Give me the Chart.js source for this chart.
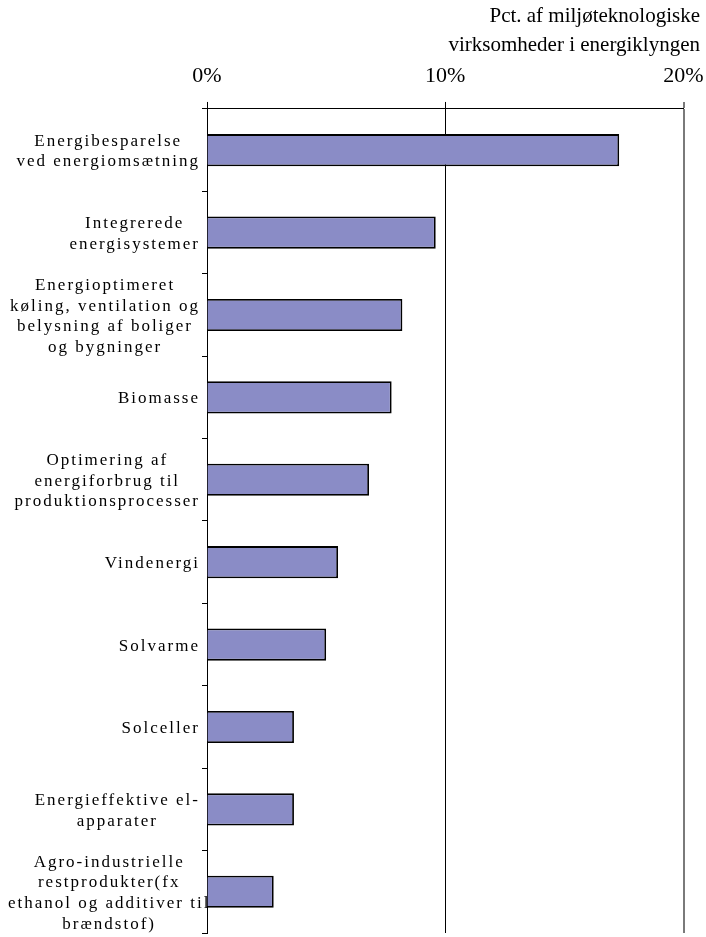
<!DOCTYPE html>
<html>
<head>
<meta charset="utf-8">
<script src="https://cdn.jsdelivr.net/npm/chart.js@4/dist/chart.umd.min.js"></script>
<style>
  html, body { margin: 0; padding: 0; background: #ffffff; }
  canvas { display: block; }
</style>
</head>
<body>
<canvas id="chart" width="706" height="937"></canvas>
<script>
// Technology areas (multi-line labels as arrays of lines)
const categories = [
  ['Energibesparelse', 'ved energiomsætning'],
  ['Integrerede', 'energisystemer'],
  ['Energioptimeret', 'køling, ventilation og', 'belysning af boliger', 'og bygninger'],
  'Biomasse',
  ['Optimering af', 'energiforbrug til', 'produktionsprocesser'],
  'Vindenergi',
  'Solvarme',
  'Solceller',
  ['Energieffektive el-', 'apparater'],
  ['Agro-industrielle', 'restprodukter(fx', 'ethanol og additiver til', 'brændstof)']
];

// Share of environmental-technology companies in the energy cluster (%)
const shares = [17.3, 9.6, 8.2, 7.75, 6.8, 5.5, 5.0, 3.65, 3.65, 2.8];

// Value axis ticks (%)
const xTicks = [0, 10, 20];

const axisTitle = ['Pct. af miljøteknologiske', 'virksomheder i energiklyngen'];

const SERIF = '"Liberation Serif", "Times New Roman", serif';

// Category labels: block right-aligned next to the axis, each line centred in the block;
// a block wider than the margin keeps a small left inset and runs over the axis instead.
const categoryLabels = {
  id: 'categoryLabels',
  afterDraw(chart) {
    const ys = chart.scales.y;
    const ctx = chart.ctx;
    const lineH = 20.7;
    const leftInset = 8;
    ctx.save();
    ctx.font = '17px ' + SERIF;
    ctx.letterSpacing = '2px';
    ctx.fillStyle = '#000000';
    ctx.textAlign = 'center';
    ctx.textBaseline = 'middle';
    const right = ys.right - 7;
    chart.data.labels.forEach((lab, i) => {
      const lines = Array.isArray(lab) ? lab : [lab];
      const w = Math.max(...lines.map(l => ctx.measureText(l).width));
      const cx = Math.max(right - w / 2, ys.left + leftInset + w / 2);
      const y0 = ys.getPixelForTick(i) + 1.5 - (lines.length - 1) * lineH / 2;
      lines.forEach((l, k) => ctx.fillText(l, cx, y0 + k * lineH));
    });
    ctx.restore();
  }
};

new Chart(document.getElementById('chart'), {
  type: 'bar',
  data: {
    labels: categories,
    datasets: [{
      data: shares,
      backgroundColor: 'rgb(138,140,198)',
      borderColor: '#000000',
      borderWidth: 1.8,
      borderSkipped: 'start',
      barPercentage: 0.39,
      categoryPercentage: 1
    }]
  },
  options: {
    indexAxis: 'y',
    responsive: false,
    animation: false,
    devicePixelRatio: 1,
    layout: { padding: { top: 0, right: 6, bottom: 4, left: 0 } },
    plugins: {
      legend: { display: false },
      tooltip: { enabled: false },
      title: {
        display: true,
        text: axisTitle,
        align: 'end',
        color: '#000000',
        font: { family: SERIF, size: 21, weight: 'normal', lineHeight: 1.38 },
        padding: { top: 2, bottom: 2.6 }
      }
    },
    scales: {
      x: {
        position: 'top',
        min: 0,
        max: 20,
        afterBuildTicks: s => { s.ticks = xTicks.map(v => ({ value: v })); },
        afterFit: s => { s.paddingRight = 22.5; s.height = 46.4; },
        ticks: {
          callback: v => v + '%',
          color: '#000000',
          font: { family: SERIF, size: 22 },
          padding: 13,
          maxRotation: 0
        },
        grid: {
          color: c => (c.tick && c.tick.value === 20) ? '#7a7a7a' : '#000000',
          lineWidth: c => (c.tick && c.tick.value === 20) ? 2 : 1,
          tickLength: 7
        },
        border: { color: '#000000', width: 1 }
      },
      y: {
        offset: true,
        afterFit: s => { s.width = 207; },
        ticks: { display: false },
        grid: { offset: true, drawOnChartArea: false, tickLength: 5, color: '#000000' },
        border: { color: '#000000', width: 1 }
      }
    }
  },
  plugins: [categoryLabels]
});
</script>
</body>
</html>
